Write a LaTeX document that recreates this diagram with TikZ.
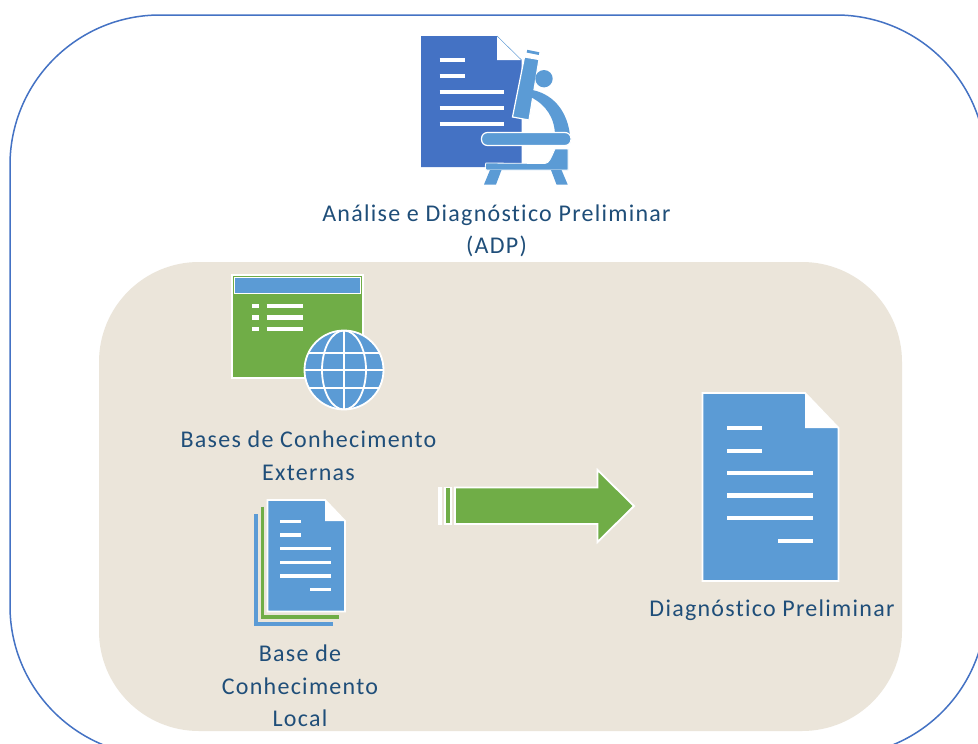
\documentclass[tikz,border=0pt]{standalone}
\usepackage{fontspec}
\setmainfont[LetterSpace=5.3,RawFeature={-liga;-dlig;-clig}]{Carlito}
\definecolor{frameblue}{HTML}{4472C4}
\definecolor{docblue}{HTML}{5B9BD5}
\definecolor{leaf}{HTML}{70AD47}
\definecolor{sand}{HTML}{EBE5DA}
\definecolor{ink}{HTML}{1F4E79}
\tikzset{
  lab/.style={text=ink,align=center,font=\fontsize{24pt}{32.5pt}\selectfont,inner sep=0pt},
  wl/.style={draw=white,line width=#1},
  wl/.default=3,
  pageedge/.style={draw=white,line width=1.8pt,line join=miter},
}
\begin{document}
\begin{tikzpicture}[x=1pt,y=-1pt]
\useasboundingbox (0,0) rectangle (978,744);
\clip (0,0) rectangle (978,744);
\fill[white] (0,0) rectangle (978,744);
\draw[frameblue,line width=1.5pt,rounded corners=150pt] (10,15) rectangle (986,756);
\fill[sand,rounded corners=100pt] (99,262) rectangle (902,731);

% ADP icon: document
\fill[frameblue] (421,36) -- (497,36) -- (521.5,60) -- (521.5,167) -- (421,167) -- cycle;
\fill[white] (497,36) -- (521.5,60) -- (497,60) -- cycle;
\draw[docblue,line width=.4pt] (497,36) -- (521.5,60);
\foreach \yy in {60,76} \draw[wl=3.2] (439.5,\yy) -- (465,\yy);
\foreach \yy in {92,108,124} \draw[wl=3.2] (439.5,\yy) -- (504,\yy);
% ADP icon: microscope
\fill[docblue,draw=white,line width=1.2pt] (524.5,57) -- (539,59.5) -- (529,120) -- (512.5,117) -- cycle;
\draw[docblue,line width=2.8pt] (527,51.2) -- (539,53.6);
\fill[docblue] (544,78.7) circle (8.7);
\fill[docblue] (532.5,90) .. controls (556,95) and (570,115) .. (570.5,143) -- (555,136) .. controls (555,118) and (546,105) .. (531.5,97.5) -- cycle;
\fill[docblue,draw=white,line width=1.2pt,rounded corners=6pt] (481.5,132.5) -- (571,132.5) -- (571,145.5) -- (481.5,145.5) -- cycle;
\fill[docblue,draw=white,line width=.8pt] (486,163) -- (545,163.5) .. controls (549,163.5) and (551,158) .. (555,149) -- (568,149) -- (568,170) -- (486.5,170) .. controls (485,170) and (485,164) .. (486,163) -- cycle;
\fill[docblue] (490,170) -- (501.5,170) -- (496,184.5) -- (484,184.5) -- cycle;
\fill[docblue] (551,170) -- (561.5,170) -- (567.7,184.5) -- (556.5,184.5) -- cycle;

\node[lab] (adp) at (496.5,231) {Análise e Diagnóstico Preliminar\\(ADP)};

% Bases externas icon
\fill[leaf,pageedge] (232,275) rectangle (363,378);
\fill[docblue,pageedge] (234.5,277.5) rectangle (360.5,293.5);
\foreach \yy in {306,317.5,329} {
  \draw[wl=4.2] (252.3,\yy) -- (258.7,\yy);
  \draw[wl=4.2] (266.7,\yy) -- (302.7,\yy);
}
\fill[docblue,draw=white,line width=1.8pt] (344,370) circle (39.5);
\begin{scope}
  \clip (344,370) circle (39.5);
  \draw[white,line width=1.8pt] (344,330) -- (344,410);
  \draw[white,line width=1.8pt] (344,370) ellipse (22 and 39.5);
  \foreach \yy in {352.7,370,388.3} \draw[white,line width=1.8pt] (300,\yy) -- (388,\yy);
\end{scope}

\node[lab] (ext) at (308.5,456) {Bases de Conhecimento\\Externas};

% Base local icon
\draw[docblue,line width=3.2pt,line join=miter] (256,514) -- (256,624) -- (332.5,624);
\draw[leaf,line width=3.4pt,line join=miter] (262.7,506.5) -- (262.7,617) -- (339,617);
\fill[docblue,pageedge] (267.5,500) -- (325,500) -- (345,521) -- (345,611.5) -- (267.5,611.5) -- cycle;
\fill[white] (325,500) -- (345,521) -- (325,521) -- cycle;
\foreach \yy in {521.7,535} \draw[wl=3.4] (280,\yy) -- (300.7,\yy);
\foreach \yy in {548.7,562.3,576} \draw[wl=3.4] (280,\yy) -- (330.7,\yy);
\draw[wl=3.4] (310,589.3) -- (330.7,589.3);

\node[lab] (loc) at (300,686) {Base de\\Conhecimento\\Local};

% Arrow
\fill[leaf,pageedge] (439,487.5) rectangle (441,524);
\fill[leaf,pageedge] (445,487.5) rectangle (451,524);
\fill[leaf,pageedge] (455,487.5) -- (597.5,487.5) -- (597.5,470) -- (634,506) -- (597.5,542) -- (597.5,524) -- (455,524) -- cycle;

% Diagnostico icon
\fill[docblue,pageedge] (702.5,393) -- (805,393) -- (838.5,428) -- (838.5,581) -- (702.5,581) -- cycle;
\fill[white] (805,393) -- (838.5,428) -- (805,428) -- cycle;
\foreach \yy in {428,451} \draw[wl=4.8] (727,\yy) -- (762,\yy);
\foreach \yy in {473,495.7,518} \draw[wl=4.8] (727,\yy) -- (813,\yy);
\draw[wl=4.8] (778,541) -- (813,541);

\node[lab] (diag) at (772,610) {Diagnóstico Preliminar};
\end{tikzpicture}
\end{document}
